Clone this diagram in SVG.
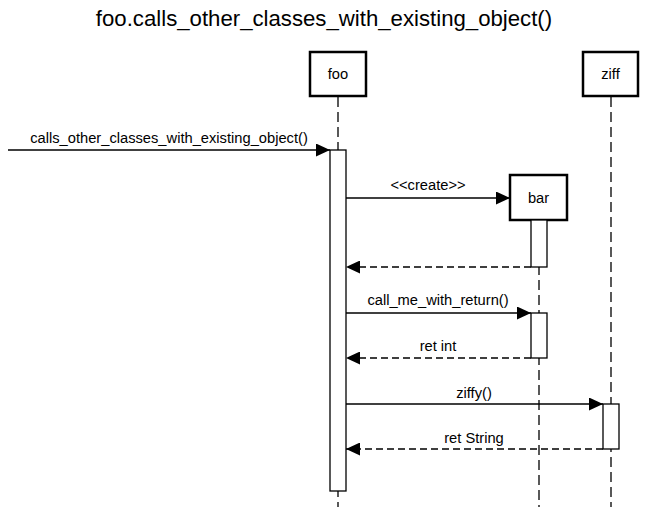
<svg xmlns="http://www.w3.org/2000/svg" width="645" height="507" viewBox="0 0 645 507">
<style>
text{font-family:"Liberation Sans",Arial,sans-serif;fill:#000}
.title{font-size:22.2px}
.lbl{font-size:14.7px}
.name{font-size:14.7px}
.box{fill:#fff;stroke:#000;stroke-width:2.5}
.act{fill:#fff;stroke:#000;stroke-width:1.3}
.life{stroke:#000;stroke-width:1.3;stroke-dasharray:10,5;fill:none}
.msg{stroke:#000;stroke-width:1.3;fill:none;marker-end:url(#ah)}
.ret{stroke:#000;stroke-width:1.3;fill:none;stroke-dasharray:7,4;marker-end:url(#ah)}
</style>
<defs>
<marker id="ah" markerUnits="userSpaceOnUse" markerWidth="15" markerHeight="13" refX="14" refY="6.5" orient="auto">
<path d="M0,0 L14,6.5 L0,13 z" fill="#000"/>
</marker>
</defs>
<rect width="645" height="507" fill="#fff"/>
<text class="title" x="324" y="26" text-anchor="middle">foo.calls_other_classes_with_existing_object()</text>

<g id="lifelines">
<line class="life" x1="338" y1="97" x2="338" y2="507"/>
<line class="life" x1="539" y1="220" x2="539" y2="507"/>
<line class="life" x1="611" y1="97" x2="611" y2="507"/>
</g>

<g id="foo">
<rect class="box" x="310" y="52" width="56" height="44"/>
<text class="name" x="338" y="79" text-anchor="middle">foo</text>
<rect class="act" x="330" y="150" width="16" height="341"/>
</g>

<g id="bar">
<rect class="box" x="510" y="175" width="57" height="45"/>
<text class="name" x="538.5" y="203" text-anchor="middle">bar</text>
<rect class="act" x="531" y="220" width="16" height="47"/>
<rect class="act" x="531" y="313" width="16" height="45"/>
</g>

<g id="ziff">
<rect class="box" x="583" y="52" width="55" height="44"/>
<text class="name" x="610.5" y="79" text-anchor="middle">ziff</text>
<rect class="act" x="603" y="404" width="16" height="45"/>
</g>

<g id="connectors">
<line class="msg" x1="8" y1="150" x2="330" y2="150"/>
<text class="lbl" x="169" y="143" text-anchor="middle">calls_other_classes_with_existing_object()</text>
<line class="msg" x1="346" y1="198" x2="510" y2="198"/>
<text class="lbl" x="428" y="190" text-anchor="middle">&lt;&lt;create&gt;&gt;</text>
<line class="ret" x1="531" y1="267" x2="346" y2="267"/>
<line class="msg" x1="346" y1="313" x2="531" y2="313"/>
<text class="lbl" x="438" y="305" text-anchor="middle">call_me_with_return()</text>
<line class="ret" x1="531" y1="358" x2="346" y2="358"/>
<text class="lbl" x="438" y="351" text-anchor="middle">ret int</text>
<line class="msg" x1="346" y1="404" x2="603" y2="404"/>
<text class="lbl" x="474" y="398" text-anchor="middle">ziffy()</text>
<line class="ret" x1="603" y1="449" x2="346" y2="449"/>
<text class="lbl" x="474" y="443" text-anchor="middle">ret String</text>
</g>
</svg>
